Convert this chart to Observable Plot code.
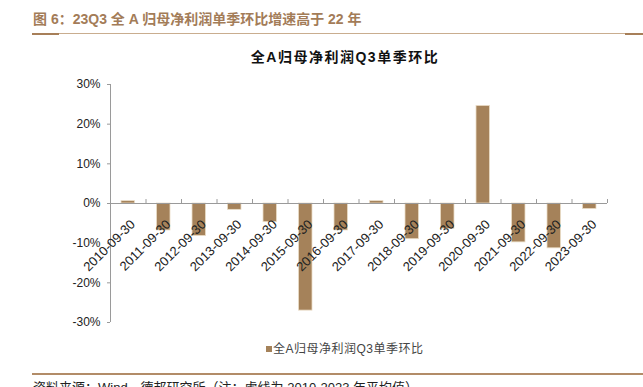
<!DOCTYPE html>
<html><head><meta charset="utf-8">
<script src="https://cdn.jsdelivr.net/npm/d3@7"></script>
<script src="https://cdn.jsdelivr.net/npm/@observablehq/plot@0.6"></script>
<style>
html,body{margin:0;padding:0;background:#fff;}
#page{position:relative;width:643px;height:387px;overflow:hidden;font-family:"Liberation Sans",Arial,"Noto Sans CJK SC",sans-serif;}
.hdr{position:absolute;left:33px;top:10px;font-size:14px;font-weight:bold;color:#A37C58;white-space:nowrap;line-height:18px;}
.rule{position:absolute;height:1px;background:#C9AD8F;left:32px;right:0;}
.rule.top{top:33px;}
.rule.bottom{top:373px;background:#B28C68;height:1.5px;}
.seg{position:absolute;height:2px;background:#A77F59;}
.ctitle{position:absolute;left:0;width:690px;text-align:center;top:46px;font-size:14px;font-weight:bold;color:#111;letter-spacing:1.5px;font-family:"Liberation Sans",Arial,"Noto Sans CJK SC",sans-serif;}
#chart{position:absolute;left:0;top:70px;}
.legend{position:absolute;left:266px;top:342px;font-size:12px;color:#444;white-space:nowrap;letter-spacing:0.5px;line-height:14px;}
.legend .sw{display:inline-block;width:6px;height:6px;background:#A5825A;margin-right:1px;vertical-align:1px;}
.caption{position:absolute;left:33px;top:377px;font-size:13px;color:#222;white-space:nowrap;}
</style></head>
<body>
<div id="page">
  <div class="hdr">图 6：23Q3 全 A 归母净利润单季环比增速高于 22 年</div>
  <div class="rule top"></div>
  <div class="seg" style="left:32px;width:27px;top:32.5px;"></div>
  <div class="seg" style="left:625px;width:18px;top:32.5px;"></div>
  <div class="ctitle">全A归母净利润Q3单季环比</div>
  <div id="chart"></div>
  <div class="legend"><span class="sw"></span>全A归母净利润Q3单季环比</div>
  <div class="rule bottom"></div>
  <div class="caption">资料来源：Wind，德邦研究所（注：虚线为 2010-2023 年平均值）</div>
</div>
<script>
const dates = ["2010-09-30","2011-09-30","2012-09-30","2013-09-30","2014-09-30","2015-09-30","2016-09-30","2017-09-30","2018-09-30","2019-09-30","2020-09-30","2021-09-30","2022-09-30","2023-09-30"];
const values = [0.006,-0.068,-0.082,-0.016,-0.047,-0.270,-0.068,0.006,-0.090,-0.064,0.246,-0.098,-0.113,-0.014];
const yTicks = [-0.3,-0.2,-0.1,0,0.1,0.2,0.3];

const data = dates.map((d,i)=>({i, date:d, v: values[i]}));
const axisColor = "#9a9a9a";
const chart = Plot.plot({
  width: 643, height: 265,
  marginLeft: 110, marginRight: 36, marginTop: 14, marginBottom: 13,
  x: {type: "linear", domain: [0, dates.length], axis: null},
  y: {domain: [-0.3, 0.3], axis: null},
  style: {fontFamily: '"Liberation Sans",Arial,sans-serif', fontSize: "12px", color: "#222", background: "transparent", overflow: "visible"},
  marks: [
    Plot.ruleX([0], {y1: -0.3, y2: 0.3, stroke: axisColor}),
    Plot.axisY({ticks: yTicks, tickFormat: d => Math.round(d*100) + "%", tickSize: 3, tickPadding: 7, stroke: axisColor, label: null, fontSize: 12, fill: "#222", textStroke: "none"}),
    Plot.rectY(data, {x1: "i", x2: d => d.i + 1, y: "v", fill: "#A5825A", stroke: "#EADCC6", strokeWidth: 0.8, insetLeft: 11, insetRight: 11}),
    Plot.ruleY([0], {stroke: axisColor}),
    Plot.ruleX(d3.range(dates.length + 1), {y1: 0, y2: 0.01, stroke: axisColor}),
    Plot.text(data, {x: d => d.i + 0.5, y: 0, text: "date", rotate: -45, textAnchor: "end", lineAnchor: "top", dx: 1, dy: 15, fontSize: 13, fill: "#222"})
  ]
});
document.getElementById("chart").appendChild(chart);
</script>
</body></html>
